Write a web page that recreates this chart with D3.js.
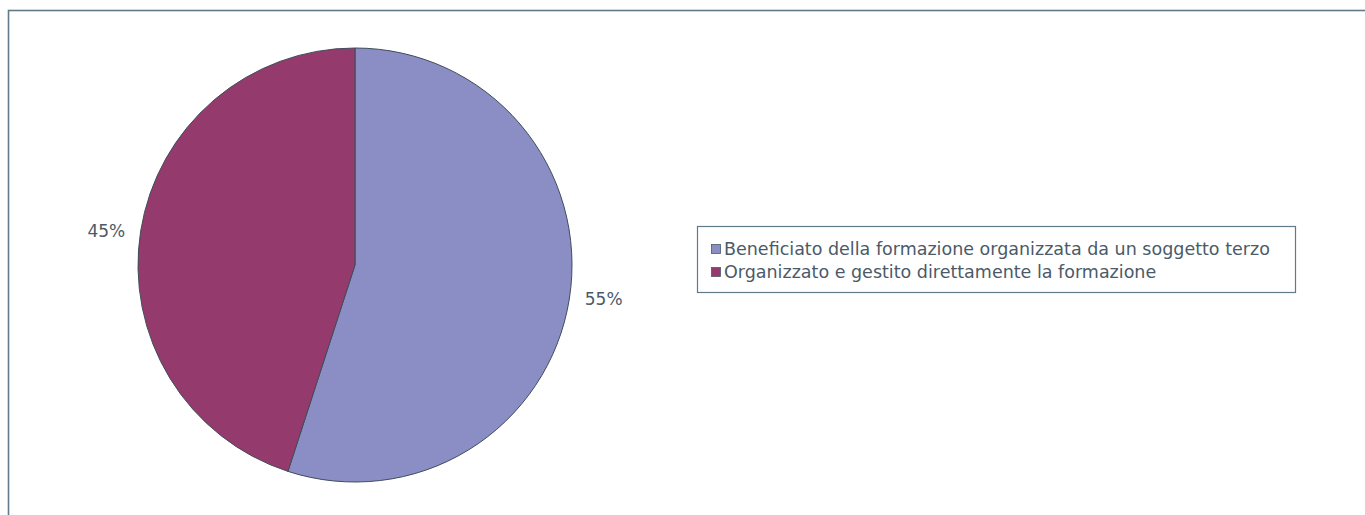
<!DOCTYPE html>
<html>
<head>
<meta charset="utf-8">
<script src="https://cdn.jsdelivr.net/npm/d3@7"></script>
<style>
  html, body { margin: 0; padding: 0; background: #ffffff; }
  svg { display: block; }
</style>
</head>
<body>
<svg id="chart" width="1365" height="515"></svg>
<script>
// Share of companies by how their training was delivered
const categories = [
  "Beneficiato della formazione organizzata da un soggetto terzo",
  "Organizzato e gestito direttamente la formazione"
];
const values = [55, 45];
const colors = ["#8b8ec5", "#953a6d"];
const valueLabels = ["55%", "45%"];

const svg = d3.select("#chart");
const textColor = "#4b5a68";
const fontFamily = "'DejaVu Sans', 'Open Sans', sans-serif";

// outer frame (open to the right and bottom of the window)
svg.append("rect")
  .attr("x", 8.5).attr("y", 10.5)
  .attr("width", 1365).attr("height", 520)
  .attr("fill", "none")
  .attr("stroke", "#62798a")
  .attr("stroke-width", 1.6);

const cx = 355, cy = 265, r = 217;

const pie = d3.pie().sort(null).value(d => d)(values);
const arc = d3.arc().innerRadius(0).outerRadius(r);

const g = svg.append("g").attr("transform", `translate(${cx},${cy})`);

g.selectAll("path.slice")
  .data(pie)
  .join("path")
  .attr("class", "slice")
  .attr("d", arc)
  .attr("fill", (d, i) => colors[i])
  .attr("stroke", "#3f4d5a")
  .attr("stroke-width", 1);

// percentage labels outside the pie, slightly turned toward the horizontal
const labelR = r + 34;
const labelTurn = -1.2 * Math.PI / 180;
g.selectAll("text.pct")
  .data(pie)
  .join("text")
  .attr("class", "pct")
  .attr("transform", d => {
    const a = (d.startAngle + d.endAngle) / 2 + labelTurn;
    return `translate(${labelR * Math.sin(a)},${-labelR * Math.cos(a)})`;
  })
  .attr("text-anchor", "middle")
  .attr("dominant-baseline", "central")
  .attr("font-family", fontFamily)
  .attr("font-size", 17)
  .attr("fill", textColor)
  .text((d, i) => valueLabels[i]);

// legend
const legend = svg.append("g");
legend.append("rect")
  .attr("x", 697.5).attr("y", 226.5)
  .attr("width", 598).attr("height", 66)
  .attr("fill", "#ffffff")
  .attr("stroke", "#62798a")
  .attr("stroke-width", 1.2);

const rows = legend.selectAll("g.row")
  .data(categories)
  .join("g")
  .attr("class", "row")
  .attr("transform", (d, i) => `translate(711, ${249 + i * 23})`);

rows.append("rect")
  .attr("x", 0.5).attr("y", -4.5)
  .attr("width", 9).attr("height", 9)
  .attr("fill", (d, i) => colors[i])
  .attr("stroke", "#4b5a68")
  .attr("stroke-width", 0.8);

rows.append("text")
  .attr("x", 13)
  .attr("y", 0)
  .attr("dominant-baseline", "central")
  .attr("font-family", fontFamily)
  .attr("font-size", 16.5)
  .attr("fill", textColor)
  .text(d => d);

// fit the first legend line to the legend box width
const first = rows.select("text").node();
const w = first.getComputedTextLength();
const target = 551;
if (w > 0) {
  const fs = 16.5 * target / w;
  rows.selectAll("text").attr("font-size", Math.min(17.5, Math.max(15, fs)));
}
</script>
</body>
</html>
